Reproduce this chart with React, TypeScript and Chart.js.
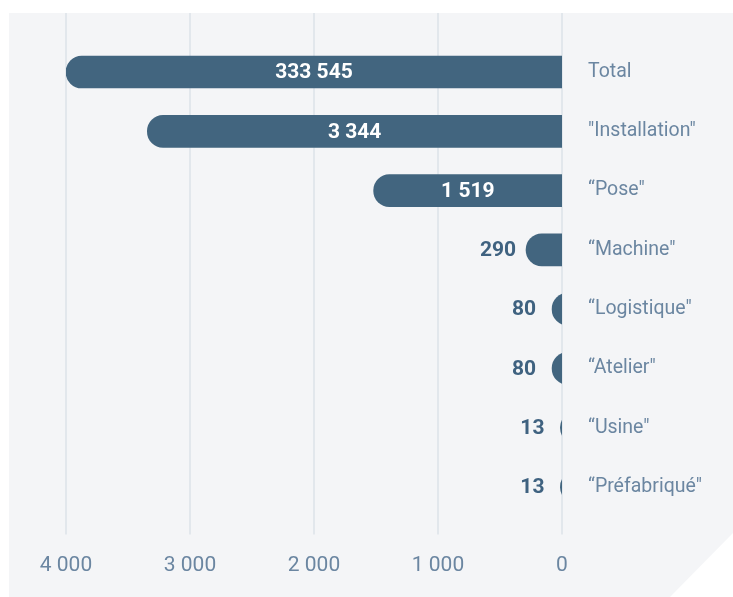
import React, { useEffect, useRef } from 'react';
import { Chart, registerables } from 'chart.js';

Chart.register(...registerables);

const categories = [
  'Total',
  '"Installation"',
  '\u201CPose"',
  '\u201CMachine"',
  '\u201CLogistique"',
  '\u201CAtelier"',
  '\u201CUsine"',
  '\u201CPr\u00E9fabriqu\u00E9"',
];
const values = [333545, 3344, 1519, 290, 80, 80, 13, 13];
const xTicks = [0, 1000, 2000, 3000, 4000];
const X_MIN = 0;
const X_MAX = 4000;
const BAR_TAIL = -400; // bars continue past 0 and are clipped at the axis

const BAR_COLOR = '#42657f';
const OUT_LABEL_COLOR = '#3f6280';
const TEXT_COLOR = '#6b86a1';
const GRID_COLOR = '#dde2e9';
const PANEL_BG = '#f4f5f7';
const FONT = 'Roboto, "Noto Sans", sans-serif';

const fmt = (v: number) => String(v).replace(/\B(?=(\d{3})+(?!\d))/g, ' ');

const gridPlugin = {
  id: 'customGrid',
  beforeDatasetsDraw(chart: any) {
    const { ctx, chartArea } = chart;
    const x = chart.scales.x;
    ctx.save();
    ctx.strokeStyle = GRID_COLOR;
    ctx.lineWidth = 1.5;
    xTicks.forEach((v) => {
      const px = x.getPixelForValue(v);
      ctx.beginPath();
      ctx.moveTo(px, 0);
      ctx.lineTo(px, chartArea.bottom + 18);
      ctx.stroke();
    });
    ctx.restore();
  },
};

const labelPlugin = {
  id: 'valueLabels',
  afterDatasetsDraw(chart: any) {
    const { ctx, chartArea } = chart;
    const meta = chart.getDatasetMeta(0);
    ctx.save();
    ctx.font = `bold 21px ${FONT}`;
    ctx.textBaseline = 'middle';
    ctx.textAlign = 'center';
    meta.data.forEach((bar: any, i: number) => {
      const text = fmt(values[i]);
      const left = Math.min(bar.x, bar.base);
      const right = chartArea.right;
      const w = ctx.measureText(text).width;
      if (right - left > w + 24) {
        ctx.fillStyle = '#ffffff';
        ctx.fillText(text, (left + right) / 2, bar.y + 1);
      } else {
        ctx.fillStyle = OUT_LABEL_COLOR;
        ctx.fillText(text, left - 28, bar.y + 1);
      }
    });
    ctx.restore();
  },
};

export default function App() {
  const ref = useRef<HTMLCanvasElement>(null);

  useEffect(() => {
    if (!ref.current) return;
    const chart = new Chart(ref.current, {
      type: 'bar',
      data: {
        labels: categories,
        datasets: [
          {
            data: values.map((v) => [BAR_TAIL, Math.min(v, X_MAX)]) as any,
            backgroundColor: BAR_COLOR,
            borderSkipped: false,
            borderRadius: 16,
            barThickness: 32,
            clip: 0 as any,
          },
        ],
      },
      options: {
        responsive: false,
        animation: false,
        indexAxis: 'y',
        layout: { padding: { top: 29.4, left: 57, right: 0, bottom: 0 } },
        plugins: {
          legend: { display: false },
          tooltip: { enabled: false },
        },
        scales: {
          x: {
            type: 'linear',
            reverse: true,
            min: X_MIN,
            max: X_MAX,
            afterBuildTicks: (s: any) => {
              s.ticks = xTicks.map((v) => ({ value: v }));
            },
            grid: { display: false, drawTicks: false },
            border: { display: false },
            ticks: {
              color: TEXT_COLOR,
              font: { family: FONT, size: 21 },
              padding: 37,
              maxRotation: 0,
              callback: (v: any) => fmt(Number(v)),
            },
            afterFit: (s: any) => {
              s.height = 80.4;
            },
          },
          y: {
            position: 'right',
            grid: { display: false, drawTicks: false },
            border: { display: false },
            ticks: {
              color: TEXT_COLOR,
              font: { family: FONT, size: 19.5 },
              padding: 26,
            },
            afterFit: (s: any) => {
              s.width = 171;
              s.paddingTop = 0;
              s.paddingBottom = 0;
            },
          },
        },
      } as any,
      plugins: [gridPlugin, labelPlugin],
    });
    return () => chart.destroy();
  }, []);

  return (
    <div
      style={{
        position: 'fixed',
        left: 9,
        top: 13,
        width: 724,
        height: 584,
        background: PANEL_BG,
        clipPath: 'polygon(0 0, 724px 0, 724px 520px, 661px 584px, 0 584px)',
      }}
    >
      <canvas ref={ref} width={724} height={584} style={{ display: 'block' }} />
    </div>
  );
}
